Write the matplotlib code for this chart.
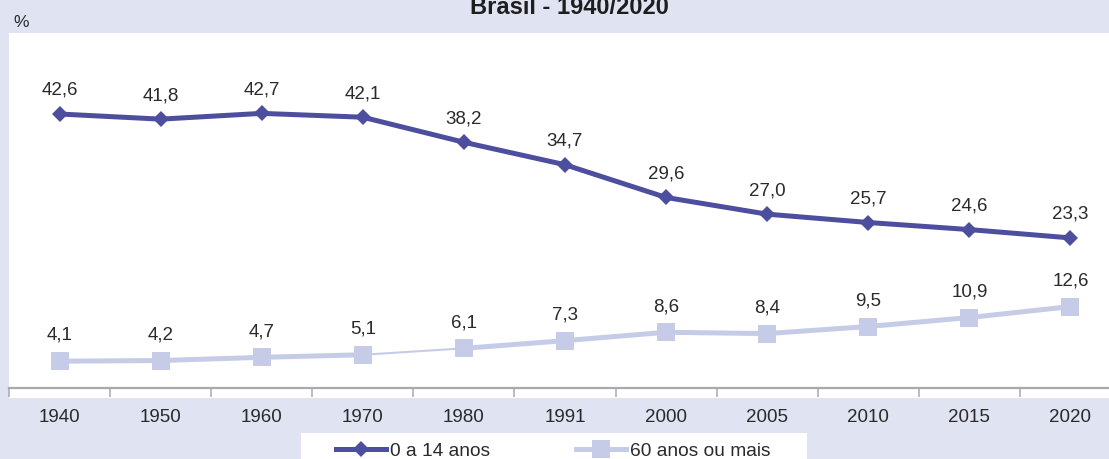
import matplotlib
matplotlib.use("Agg")
import matplotlib.pyplot as plt
from matplotlib.patches import Rectangle
from matplotlib.lines import Line2D
import matplotlib.transforms as mtransforms

# ---- data ----
years = ["1940", "1950", "1960", "1970", "1980", "1991", "2000", "2005", "2010", "2015", "2020"]
jovens = [42.6, 41.8, 42.7, 42.1, 38.2, 34.7, 29.6, 27.0, 25.7, 24.6, 23.3]
idosos = [4.1, 4.2, 4.7, 5.1, 6.1, 7.3, 8.6, 8.4, 9.5, 10.9, 12.6]
serie_labels = ["0 a 14 anos", "60 anos ou mais"]
title = "Brasil - 1940/2020"
unit = "%"

# ---- style ----
W, H = 1109, 459
BG = "#dfe3f2"
DARK = "#4e4e9e"
LIGHT = "#c6cbe8"
TXT = "#2a2a2a"
AX = "#a9a9ad"
FONT = ["Liberation Sans", "DejaVu Sans"]
plt.rcParams["font.family"] = FONT
FS = 13.5

fig = plt.figure(figsize=(W / 100, H / 100), dpi=100, facecolor=BG)

def px_x(x):
    return x / W

def px_y(y):
    return 1 - y / H

left, right, top, bottom = 9, 1121, 33, 398
ax = fig.add_axes([px_x(left), px_y(bottom), (right - left) / W, (bottom - top) / H])
ax.set_facecolor("white")
ax.set_xlim(-0.5, len(years) - 0.5)
y0_px = 387.5
scale = 6.42
ax.set_ylim(-(bottom - y0_px) / scale, (y0_px - top) / scale)

for s in ["top", "right", "left"]:
    ax.spines[s].set_visible(False)
ax.spines["bottom"].set_position(("data", 0))
ax.spines["bottom"].set_color(AX)
ax.spines["bottom"].set_linewidth(1.6)
ax.set_yticks([])

x = list(range(len(years)))
ax.set_xticks([i - 0.5 for i in range(len(years) + 1)], minor=True)
ax.set_xticks(x)
ax.set_xticklabels([])
ax.tick_params(axis="x", which="major", length=0)
ax.tick_params(axis="x", which="minor", direction="out", length=6.5, width=1.1, color=AX)

# category labels below the axis
trans = mtransforms.blended_transform_factory(ax.transData, fig.transFigure)
for i, lab in enumerate(years):
    ax.text(i, px_y(422), lab, transform=trans, ha="center", va="baseline",
            fontsize=FS, color=TXT, clip_on=False)

# series 0-14 anos
ax.plot(x, jovens, color=DARK, lw=3.6, marker="D", ms=8.2, mew=0, solid_joinstyle="round", zorder=3)

# series 60+ (segment 1970-1980 drawn thinner as in the source)
seg_w = [3.6, 3.6, 3.6, 1.5, 3.6, 3.6, 3.6, 3.6, 3.6, 3.6]
for i in range(len(idosos) - 1):
    ax.plot(x[i:i + 2], idosos[i:i + 2], color=LIGHT, lw=seg_w[i], solid_capstyle="butt", zorder=2)
ax.plot(x, idosos, color=LIGHT, lw=0, marker="s", ms=12.3, mew=0, zorder=2)

# value labels
for xi, v in zip(x, jovens):
    ax.annotate(f"{v:.1f}".replace(".", ","), (xi, v), xytext=(0, 17), textcoords="offset points",
                ha="center", va="center", fontsize=FS, color=TXT)
for xi, v in zip(x, idosos):
    ax.annotate(f"{v:.1f}".replace(".", ","), (xi, v), xytext=(0, 18.5), textcoords="offset points",
                ha="center", va="center", fontsize=FS, color=TXT)

# title and unit
fig.text(px_x(569), px_y(14), title, ha="center", va="baseline", fontsize=17,
         fontweight="bold", color="#1e1e1e")
fig.text(px_x(13), px_y(27), unit, ha="left", va="baseline", fontsize=12.5, color=TXT)

# legend
fig.patches.append(Rectangle((px_x(301), 0), (807 - 301) / W, (459 - 433) / H,
                             transform=fig.transFigure, facecolor="white", edgecolor="none", zorder=0))
handles = [Line2D([], [], color=DARK, lw=3.6, marker="D", ms=8.2, mew=0),
           Line2D([], [], color=LIGHT, lw=3.6, marker="s", ms=12.3, mew=0)]
leg = fig.legend(handles, serie_labels, loc="center", bbox_to_anchor=(px_x(553), px_y(451)),
                 ncol=2, frameon=False, fontsize=13.8, handlelength=2.6, handletextpad=0.2,
                 columnspacing=4.5, borderpad=0, borderaxespad=0)
for t in leg.get_texts():
    t.set_color(TXT)

fig.savefig("out.png", dpi=100, facecolor=BG)
